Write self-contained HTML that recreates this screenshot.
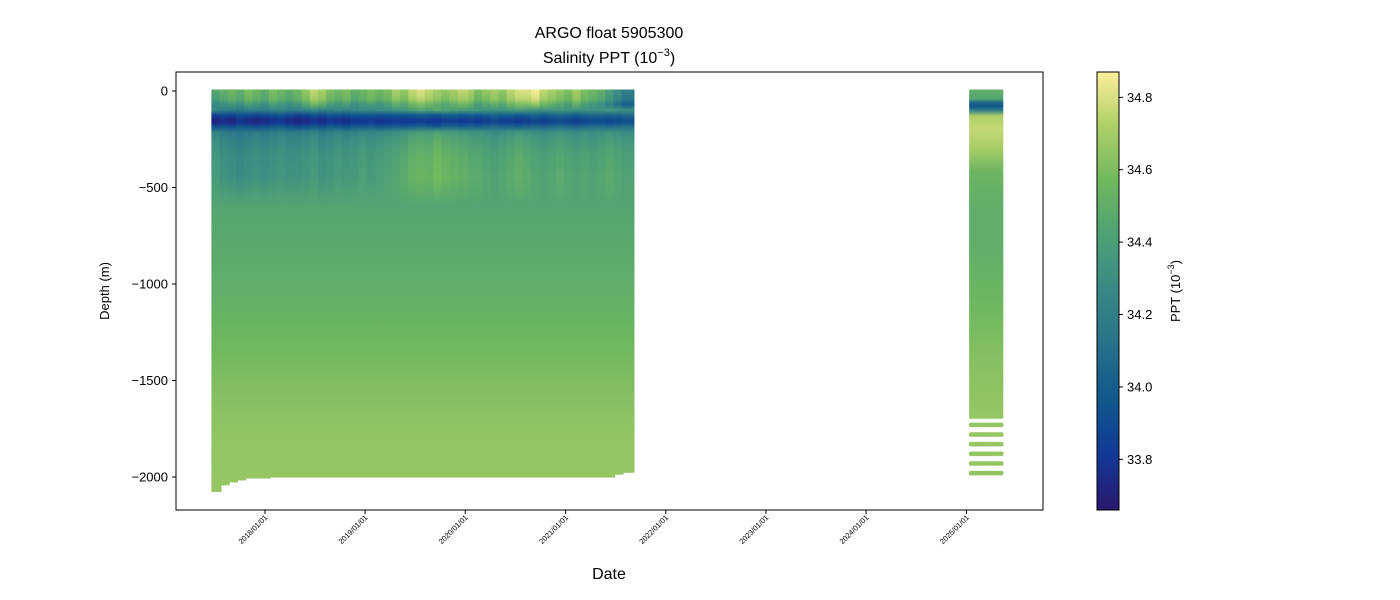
<!DOCTYPE html>
<html><head><meta charset="utf-8">
<style>
body{margin:0;background:#fff;}
svg{display:block;font-family:"Liberation Sans","DejaVu Sans",sans-serif;}
</style></head>
<body>
<svg id="chart" width="1400" height="600" viewBox="0 0 1400 600">
  <defs id="defs"></defs>
  <text x="609" y="38" text-anchor="middle" font-size="16">ARGO float 5905300</text>
  <text x="609" y="63" text-anchor="middle" font-size="16">Salinity PPT (10<tspan dy="-7" font-size="11">−3</tspan><tspan dy="7">)</tspan></text>
  <g id="plot"></g>
  <rect x="176" y="72" width="867" height="438" fill="none" stroke="#000" stroke-width="1"/>
  <g id="yaxis"></g>
  <g id="xaxis"></g>
  <text transform="translate(109,291) rotate(-90)" text-anchor="middle" font-size="13">Depth (m)</text>
  <text x="609" y="579" text-anchor="middle" font-size="16">Date</text>
  <g id="cbar"></g>
  <text transform="translate(1180,291) rotate(-90)" text-anchor="middle" font-size="13">PPT (10<tspan dy="-6" font-size="9">−3</tspan><tspan dy="6">)</tspan></text>
</svg>
<script>
// ---- data ----
const yTicks = [0, -500, -1000, -1500, -2000];
const xTickLabels = ["2018/01/01","2019/01/01","2020/01/01","2021/01/01","2022/01/01","2023/01/01","2024/01/01","2025/01/01"];
const cbarTicks = [33.8, 34.0, 34.2, 34.4, 34.6, 34.8];
const salMin = 33.66, salMax = 34.87;
// mission 1: monthly (2017-06 .. 2021-08)
const m1Start = "2017-06-25";
const m1End = "2021-08-28";
const surfaceSal = [34.45,34.5,34.55,34.5,34.6,34.55,34.5,34.6,34.55,34.5,34.55,34.65,34.75,34.7,34.6,34.55,34.6,34.5,34.55,34.6,34.55,34.6,34.7,34.65,34.75,34.8,34.75,34.7,34.65,34.7,34.75,34.7,34.6,34.65,34.7,34.65,34.75,34.8,34.8,34.85,34.75,34.7,34.65,34.6,34.7,34.6,34.55,34.5,34.4,34.3,34.2];
const minSal = [33.72,33.75,33.72,33.78,33.75,33.72,33.75,33.78,33.8,33.75,33.72,33.74,33.78,33.75,33.8,33.78,33.76,33.8,33.8,33.82,33.78,33.8,33.82,33.8,33.82,33.85,33.82,33.8,33.85,33.85,33.82,33.85,33.82,33.85,33.88,33.85,33.85,33.82,33.85,33.88,33.85,33.88,33.9,33.88,33.85,33.88,33.9,33.9,33.88,33.9,33.92];
const midSal = [34.35,34.3,34.28,34.25,34.28,34.3,34.28,34.3,34.32,34.3,34.3,34.32,34.35,34.3,34.32,34.35,34.33,34.35,34.38,34.35,34.38,34.4,34.42,34.45,34.5,34.52,34.5,34.55,34.52,34.5,34.48,34.45,34.45,34.42,34.4,34.42,34.45,34.48,34.45,34.42,34.4,34.42,34.45,34.42,34.4,34.42,34.4,34.42,34.45,34.42,34.4];
const bottomDepth = [2070,2035,2020,2010,2000,2000,2000,1995,1995,1995,1995,1995,1995,1995,1995,1995,1995,1995,1995,1995,1995,1995,1995,1995,1995,1995,1995,1995,1995,1995,1995,1995,1995,1995,1995,1995,1995,1995,1995,1995,1995,1995,1995,1995,1995,1995,1995,1995,1995,1980,1970];
const deepLevels = [600, 800, 1000, 1200, 1400, 1600, 1800, 2000, 2100];
const deepSal = [34.44, 34.47, 34.5, 34.54, 34.58, 34.62, 34.65, 34.66, 34.66];
// mission 2 profiles
const m2Dates = ["2025-01-18","2025-01-27","2025-02-05","2025-02-14","2025-02-23","2025-03-04","2025-03-13","2025-03-22","2025-03-31","2025-04-09","2025-04-18","2025-04-27","2025-05-08"];
const m2Levels = [0, 40, 60, 80, 100, 130, 200, 300, 420, 600, 800, 1000, 1200, 1400, 1690];
const m2Sal = [34.5, 34.45, 34.05, 33.95, 34.2, 34.72, 34.76, 34.7, 34.55, 34.5, 34.5, 34.54, 34.58, 34.62, 34.66];
const m2DotDepths = [1730, 1780, 1830, 1880, 1930, 1980];
const m2DotSal = [34.66, 34.66, 34.66, 34.66, 34.66, 34.65];

// ---- scales ----
const NS = "http://www.w3.org/2000/svg";
const t0 = Date.UTC(2018,0,1);
function xs(dateStr){const d=new Date(dateStr+"T00:00:00Z");return 265 + (d-t0)/86400000/365.25*100.2;}
function ys(depth){return 91 + depth*0.193;}
function yv(v){return 91 - v*0.193;}
const stops=[[42,24,108],[18,55,150],[16,88,140],[38,113,137],[56,137,133],[76,161,118],[112,184,94],[174,207,104],[253,239,154]];
function color(s){let t=(s-salMin)/(salMax-salMin);t=Math.max(0,Math.min(1,t));const p=t*(stops.length-1);const i=Math.min(stops.length-2,Math.floor(p));const f=p-i;const a=stops[i],b=stops[i+1];return `rgb(${Math.round(a[0]+(b[0]-a[0])*f)},${Math.round(a[1]+(b[1]-a[1])*f)},${Math.round(a[2]+(b[2]-a[2])*f)})`;}
function el(tag,attrs,parent){const e=document.createElementNS(NS,tag);for(const k in attrs)e.setAttribute(k,attrs[k]);parent.appendChild(e);return e;}

const defs=document.getElementById('defs');
const plot=document.getElementById('plot');
let gid=0;
function drawProfile(x,w,levels,sals,bottom){
  const g=el('linearGradient',{id:'g'+gid,gradientUnits:'userSpaceOnUse'},defs);
  g.setAttribute('x1',0);g.setAttribute('y1',ys(0));g.setAttribute('x2',0);g.setAttribute('y2',ys(bottom));
  levels.forEach((lv,i)=>{if(lv<=bottom+100){el('stop',{offset:Math.min(1,lv/bottom),'stop-color':color(sals[i])},g);}});
  const r=el('rect',{x:x,y:ys(0)-1.5,width:w,height:ys(bottom)-ys(0)+3,fill:`url(#g${gid})`},plot);
  
  
  gid++;
}
// mission 1
const s1=xs(m1Start), e1=xs(m1End);
const d0=new Date(m1Start+"T00:00:00Z");
const nProf=Math.round((new Date(m1End+"T00:00:00Z")-d0)/86400000/10);
for(let p=0;p<=nProf;p++){
  const frac=p/nProf;
  const mi=Math.min(surfaceSal.length-1,Math.floor(frac*surfaceSal.length));
  const x=s1+(e1-s1)*frac;
  const ss=surfaceSal[mi], mn=minSal[mi], md=midSal[mi];
  const levels=[0,40,70,100,125,150,165,185,215,260,330,450].concat(deepLevels);
  const sals=[ss,ss-0.05,ss-0.2,md-0.1,mn+0.15,mn,mn+0.02,mn+0.2,md-0.12,md-0.05,md,md+0.03].concat(deepSal);
  drawProfile(x-1.5,(e1-s1)/nProf+2,levels,sals,bottomDepth[mi]);
}
// mission 2
m2Dates.forEach((d,i)=>{
  const x=xs(d), w=i<m2Dates.length-1?xs(m2Dates[i+1])-x+1:4;
  drawProfile(x-2,w,m2Levels,m2Sal,m2Levels[m2Levels.length-1]);
  m2DotDepths.forEach((dd,j)=>{
    const c=el('circle',{cx:x,cy:ys(dd),r:2.4,fill:color(m2DotSal[j])},plot);
    
    
  });
});

// y axis
const ya=document.getElementById('yaxis');
yTicks.forEach(v=>{
  const y=yv(v);
  const l=el('line',{x1:172,x2:176,y1:y,y2:y,stroke:'#000'},ya);
  
  
  const t=el('text',{x:168,y:y+4.5,'text-anchor':'end','font-size':13},ya);
  t.textContent=v===0?'0':'−'+Math.abs(v);
  
  
});
// x axis
const xa=document.getElementById('xaxis');
xTickLabels.forEach(lbl=>{
  const x=xs(lbl.replace(/\//g,'-'));
  const l=el('line',{x1:x,x2:x,y1:510,y2:514,stroke:'#000'},xa);
  
  
  const t=el('text',{transform:`translate(${x+3},${518}) rotate(-45)`,'text-anchor':'end','font-size':7.5},xa);
  t.textContent=lbl;
  
  
});
// colorbar
const cb=document.getElementById('cbar');
const cg=el('linearGradient',{id:'cbg',x1:0,y1:1,x2:0,y2:0},defs);
stops.forEach((s,i)=>el('stop',{offset:i/(stops.length-1),'stop-color':`rgb(${s[0]},${s[1]},${s[2]})`},cg));
const cr=el('rect',{x:1097,y:72,width:22,height:438,fill:'url(#cbg)',stroke:'#000','stroke-width':1},cb);


cbarTicks.forEach(v=>{
  const y=510-(v-salMin)/(salMax-salMin)*438;
  const l=el('line',{x1:1119,x2:1123,y1:y,y2:y,stroke:'#000'},cb);
  
  
  const t=el('text',{x:1127,y:y+4.5,'font-size':13},cb);
  t.textContent=v.toFixed(1);
  
  
});
</script>
</body></html>
